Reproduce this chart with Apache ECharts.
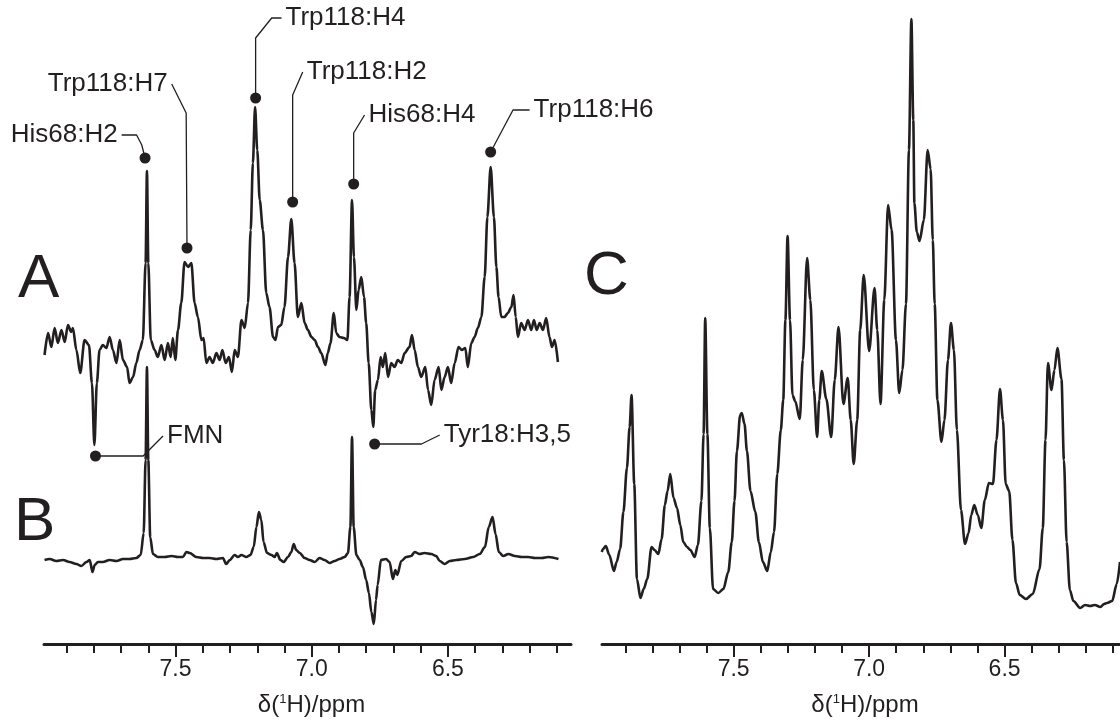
<!DOCTYPE html>
<html>
<head>
<meta charset="utf-8">
<script src="https://cdn.jsdelivr.net/npm/echarts@6/dist/echarts.min.js"></script>
<style>
  html, body { margin: 0; padding: 0; background: #ffffff; }
  #chart { width: 1120px; height: 720px; }
</style>
</head>
<body>
<div id="chart"></div>
<script>
// 1H NMR, aromatic region. Each point is [chemical shift / ppm, intensity / a.u.]
// A: difference spectrum, B: reference difference spectrum, C: full 1D spectrum
const spectrumA = [
  [7.981,-15],[7.968,7],[7.956,-7],[7.944,12],[7.932,-3],[7.919,10],[7.907,-2],[7.895,15],[7.883,8],[7.877,12],
  [7.864,-10],[7.850,-33],[7.834,0],[7.818,-5],[7.807,-43],[7.798,-105],[7.789,-43],[7.779,-10],[7.767,-5],[7.754,-8],
  [7.742,3],[7.730,-10],[7.717,-23],[7.705,0],[7.693,-20],[7.678,-27],[7.669,-43],[7.656,-37],[7.644,-23],[7.632,-10],
  [7.620,0],[7.610,77],[7.605,169],[7.600,77],[7.591,0],[7.577,-10],[7.565,-17],[7.552,-5],[7.540,-20],[7.528,-3],
  [7.518,-17],[7.510,2],[7.501,-20],[7.491,10],[7.479,37],[7.467,78],[7.454,73],[7.442,77],[7.430,37],[7.418,23],
  [7.405,0],[7.397,2],[7.387,-23],[7.375,-17],[7.363,-23],[7.350,-13],[7.338,-20],[7.328,-10],[7.316,-23],[7.304,-17],
  [7.293,-32],[7.283,-10],[7.271,-17],[7.258,20],[7.246,12],[7.234,37],[7.224,110],[7.216,177],[7.208,233],[7.200,190],
  [7.191,140],[7.179,110],[7.167,47],[7.155,33],[7.142,3],[7.133,0],[7.124,13],[7.112,15],[7.100,33],[7.087,83],
  [7.075,121],[7.063,77],[7.051,23],[7.038,37],[7.026,17],[7.014,10],[7.001,3],[6.989,0],[6.977,-7],[6.965,-13],
  [6.950,-25],[6.941,-13],[6.931,-3],[6.919,27],[6.910,7],[6.898,3],[6.882,2],[6.869,0],[6.861,43],[6.852,140],
  [6.845,83],[6.836,30],[6.828,50],[6.818,63],[6.808,43],[6.800,17],[6.791,-23],[6.781,-70],[6.774,-87],[6.767,-50],
  [6.757,-40],[6.747,-17],[6.739,-27],[6.730,-13],[6.720,-37],[6.708,-23],[6.696,-27],[6.684,-20],[6.671,-23],[6.659,-13],
  [6.641,-7],[6.632,5],[6.622,-10],[6.610,-27],[6.598,-37],[6.583,-27],[6.573,-50],[6.561,-65],[6.549,-40],[6.534,-27],
  [6.524,-50],[6.512,-37],[6.500,-27],[6.488,-43],[6.475,-23],[6.461,-7],[6.449,-10],[6.436,-8],[6.427,-27],[6.414,-3],
  [6.402,3],[6.390,12],[6.377,23],[6.365,63],[6.355,123],[6.343,173],[6.331,123],[6.322,73],[6.314,43],[6.304,23],
  [6.292,23],[6.280,27],[6.267,33],[6.259,45],[6.251,23],[6.243,3],[6.231,17],[6.218,10],[6.206,20],[6.194,10],
  [6.184,20],[6.174,10],[6.163,17],[6.151,10],[6.139,22],[6.127,3],[6.118,-7],[6.108,0],[6.096,-22]
];

const spectrumB = [
  [7.981,0],[7.962,1],[7.938,-1],[7.913,0],[7.889,-2],[7.864,-4],[7.846,-6],[7.827,-2],[7.815,0],[7.805,-12],
  [7.797,-5],[7.785,-2],[7.767,-2],[7.742,0],[7.717,-1],[7.693,1],[7.669,1],[7.644,2],[7.628,5],[7.617,27],
  [7.610,100],[7.605,193],[7.600,100],[7.593,23],[7.583,6],[7.565,3],[7.540,3],[7.515,4],[7.491,3],[7.473,3],
  [7.460,8],[7.448,7],[7.424,3],[7.399,2],[7.375,2],[7.350,1],[7.326,2],[7.314,-4],[7.301,0],[7.283,5],
  [7.271,3],[7.258,5],[7.240,3],[7.225,5],[7.213,13],[7.203,33],[7.194,48],[7.185,40],[7.177,18],[7.164,7],
  [7.148,5],[7.136,3],[7.128,7],[7.115,0],[7.103,-2],[7.087,3],[7.075,8],[7.066,16],[7.057,10],[7.044,7],
  [7.026,2],[7.008,0],[6.989,-2],[6.971,2],[6.953,0],[6.934,-3],[6.916,-1],[6.898,1],[6.879,3],[6.867,7],
  [6.858,33],[6.852,123],[6.846,33],[6.836,5],[6.824,0],[6.812,-7],[6.800,-20],[6.790,-33],[6.781,-52],[6.772,-64],
  [6.764,-40],[6.758,-25],[6.746,0],[6.727,1],[6.714,-2],[6.702,-19],[6.693,-10],[6.686,-15],[6.671,-1],[6.653,3],
  [6.635,4],[6.622,8],[6.604,6],[6.586,7],[6.561,6],[6.543,4],[6.530,-1],[6.512,-4],[6.493,-1],[6.469,0],
  [6.438,1],[6.407,3],[6.383,6],[6.364,13],[6.350,33],[6.336,43],[6.325,26],[6.313,8],[6.297,4],[6.278,6],
  [6.254,4],[6.229,3],[6.205,3],[6.180,2],[6.155,2],[6.131,3],[6.094,1]
];

const spectrumC = [
  [7.987,54],[7.982,57],[7.972,60],[7.959,51],[7.942,35],[7.932,44],[7.919,57],[7.907,94],[7.894,138],[7.884,179],
  [7.877,211],[7.867,122],[7.857,27],[7.844,8],[7.832,17],[7.819,27],[7.803,59],[7.792,56],[7.778,52],[7.766,67],
  [7.754,101],[7.744,115],[7.734,132],[7.722,108],[7.709,98],[7.697,81],[7.686,64],[7.672,59],[7.660,56],[7.644,49],
  [7.632,61],[7.619,105],[7.611,172],[7.605,288],[7.597,172],[7.588,78],[7.576,17],[7.557,13],[7.538,17],[7.520,34],
  [7.507,64],[7.497,105],[7.488,155],[7.476,191],[7.470,193],[7.460,182],[7.451,155],[7.438,115],[7.420,94],[7.407,64],
  [7.392,44],[7.376,35],[7.363,54],[7.351,74],[7.339,132],[7.326,176],[7.317,206],[7.309,286],[7.301,370],[7.292,286],
  [7.283,211],[7.273,205],[7.256,187],[7.245,246],[7.229,348],[7.217,306],[7.204,216],[7.192,169],[7.184,206],[7.175,235],
  [7.158,207],[7.140,169],[7.127,226],[7.113,279],[7.095,202],[7.079,228],[7.068,186],[7.057,142],[7.044,186],[7.033,276],
  [7.020,331],[7.000,255],[6.980,318],[6.970,276],[6.958,202],[6.944,306],[6.930,401],[6.917,376],[6.901,266],[6.889,213],
  [6.877,236],[6.864,302],[6.853,456],[6.844,587],[6.837,486],[6.833,403],[6.824,374],[6.814,365],[6.798,386],[6.784,456],
  [6.773,437],[6.765,366],[6.758,302],[6.748,206],[6.733,164],[6.722,186],[6.709,246],[6.698,283],[6.687,256],[6.676,176],
  [6.661,96],[6.646,62],[6.633,73],[6.623,91],[6.612,101],[6.599,91],[6.586,78],[6.573,106],[6.558,123],[6.543,122],
  [6.530,166],[6.517,217],[6.506,186],[6.496,122],[6.483,115],[6.471,66],[6.458,23],[6.444,11],[6.421,7],[6.396,12],
  [6.371,37],[6.359,78],[6.349,166],[6.340,243],[6.327,216],[6.316,236],[6.305,258],[6.290,227],[6.281,146],[6.271,64],
  [6.259,16],[6.246,5],[6.221,-2],[6.203,1],[6.184,0],[6.167,1],[6.146,-1],[6.133,2],[6.122,3],[6.103,5],
  [6.086,22],[6.074,44]
];

// Axis ticks (ppm)
const majorTicks = [7.5, 7.0, 6.5];
const minorTicks = [7.9, 7.8, 7.7, 7.6, 7.4, 7.3, 7.2, 7.1, 6.9, 6.8, 6.7, 6.6, 6.4, 6.3, 6.2, 6.1];

// Peak assignments on spectrum A (intensity in A units).
// path runs from the label end of the leader line to the peak marker.
const assignmentNames = ['His68:H2', 'Trp118:H7', 'Trp118:H4', 'Trp118:H2', 'His68:H4', 'Trp118:H6', 'FMN', 'Tyr18:H3,5'];
const assignmentSides = ['left', 'left', 'right', 'right', 'right', 'right', 'right', 'right'];
const assignmentPaths = [
  [[7.698, 205], [7.643, 205], [7.624, 195], [7.612, 182]],
  [[7.514, 256], [7.461, 227], [7.458, 92]],
  [[7.111, 322], [7.147, 322], [7.206, 302], [7.206, 242]],
  [[7.033, 268], [7.070, 245], [7.070, 138]],
  [[6.806, 225], [6.846, 207], [6.846, 156]],
  [[6.200, 230], [6.261, 230], [6.343, 188]],
  [[7.546, -96], [7.619, -116], [7.794, -116]],
  [[6.530, -95], [6.597, -104], [6.769, -104]]
];

const panelLetters = ['A', 'B', 'C'];

const INK = '#231f20';
const FONT = "'Liberation Sans', Arial, Helvetica, sans-serif";

function bottomAxes(gridIndex, min, max) {
  const major = {
    type: 'value', gridIndex: gridIndex, min: min, max: max, inverse: true, position: 'bottom',
    axisLine: { show: true, onZero: false, lineStyle: { color: INK, width: 3 } },
    axisTick: { show: true, customValues: majorTicks, length: 13, lineStyle: { color: INK, width: 2 } },
    axisLabel: {
      show: true, customValues: majorTicks, formatter: function (v) { return Number(v).toFixed(1); },
      color: INK, fontSize: 23, fontFamily: FONT, margin: 14
    },
    splitLine: { show: false },
    name: 'δ({sup|1}H)/ppm', nameLocation: 'middle', nameGap: 49,
    nameTextStyle: {
      color: INK, fontSize: 24, fontFamily: FONT, padding: [0, 0, 0, 8],
      rich: { sup: { fontSize: 13, fontFamily: FONT, color: INK, verticalAlign: 'top' } }
    }
  };
  const minor = {
    type: 'value', gridIndex: gridIndex, min: min, max: max, inverse: true, position: 'bottom', offset: 0,
    axisLine: { show: false, onZero: false },
    axisTick: { show: true, customValues: minorTicks, length: 9, lineStyle: { color: INK, width: 2 } },
    axisLabel: { show: false },
    splitLine: { show: false }
  };
  return [major, minor];
}

const chart = echarts.init(document.getElementById('chart'), null, { renderer: 'canvas' });

const spectrumLine = { color: INK, width: 2.6 };

function spectrumSeries(name, xi, yi, data) {
  return {
    name: name, type: 'line', xAxisIndex: xi, yAxisIndex: yi, data: data,
    symbol: 'none', clip: false, silent: true, smooth: 0.3, smoothMonotone: 'x',
    lineStyle: spectrumLine
  };
}

const series = [
  spectrumSeries('A', 0, 0, spectrumA),
  spectrumSeries('B', 0, 1, spectrumB),
  spectrumSeries('C', 2, 2, spectrumC)
];

assignmentPaths.forEach(function (path, i) {
  series.push({
    name: assignmentNames[i], type: 'line', xAxisIndex: 0, yAxisIndex: 0, data: path,
    symbol: 'none', clip: false, silent: true, lineStyle: { color: INK, width: 1.3, opacity: 1 }
  });
});

// peak markers
series.push({
  type: 'scatter', xAxisIndex: 0, yAxisIndex: 0, clip: false, silent: true,
  symbol: 'circle', symbolSize: 11, itemStyle: { color: INK, opacity: 1 },
  data: assignmentPaths.map(function (p) { return p[p.length - 1]; })
});

// assignment labels
series.push({
  type: 'scatter', xAxisIndex: 0, yAxisIndex: 0, clip: false, silent: true,
  symbolSize: 0, itemStyle: { opacity: 1, color: INK },
  data: assignmentPaths.map(function (p, i) {
    return { value: p[0], name: assignmentNames[i], label: { position: assignmentSides[i] } };
  }),
  label: {
    show: true, formatter: '{b}', distance: 4, color: INK, opacity: 1, fontSize: 26, fontFamily: FONT
  }
});

const letterFont = '62px ' + FONT;

chart.setOption({
  animation: false,
  backgroundColor: '#ffffff',
  textStyle: { fontFamily: FONT },
  grid: [
    { left: 44, width: 527, top: 0, bottom: 76, outerBoundsMode: 'none', containLabel: false },
    { left: 602, right: 0, top: 0, bottom: 76, outerBoundsMode: 'none', containLabel: false }
  ],
  xAxis: bottomAxes(0, 6.048, 7.983).concat(bottomAxes(1, 6.074, 7.986)),
  yAxis: [
    { type: 'value', gridIndex: 0, min: -304, max: 340, show: false },
    { type: 'value', gridIndex: 0, min: -84, max: 560, show: false },
    { type: 'value', gridIndex: 1, min: -38, max: 606, show: false }
  ],
  graphic: [
    { type: 'text', left: 18, top: 249, style: { text: panelLetters[0], font: letterFont, fill: INK } },
    { type: 'text', left: 14, top: 492, style: { text: panelLetters[1], font: letterFont, fill: INK } },
    { type: 'text', left: 584, top: 246, style: { text: panelLetters[2], font: letterFont, fill: INK } }
  ],
  series: series
});
</script>
</body>
</html>
